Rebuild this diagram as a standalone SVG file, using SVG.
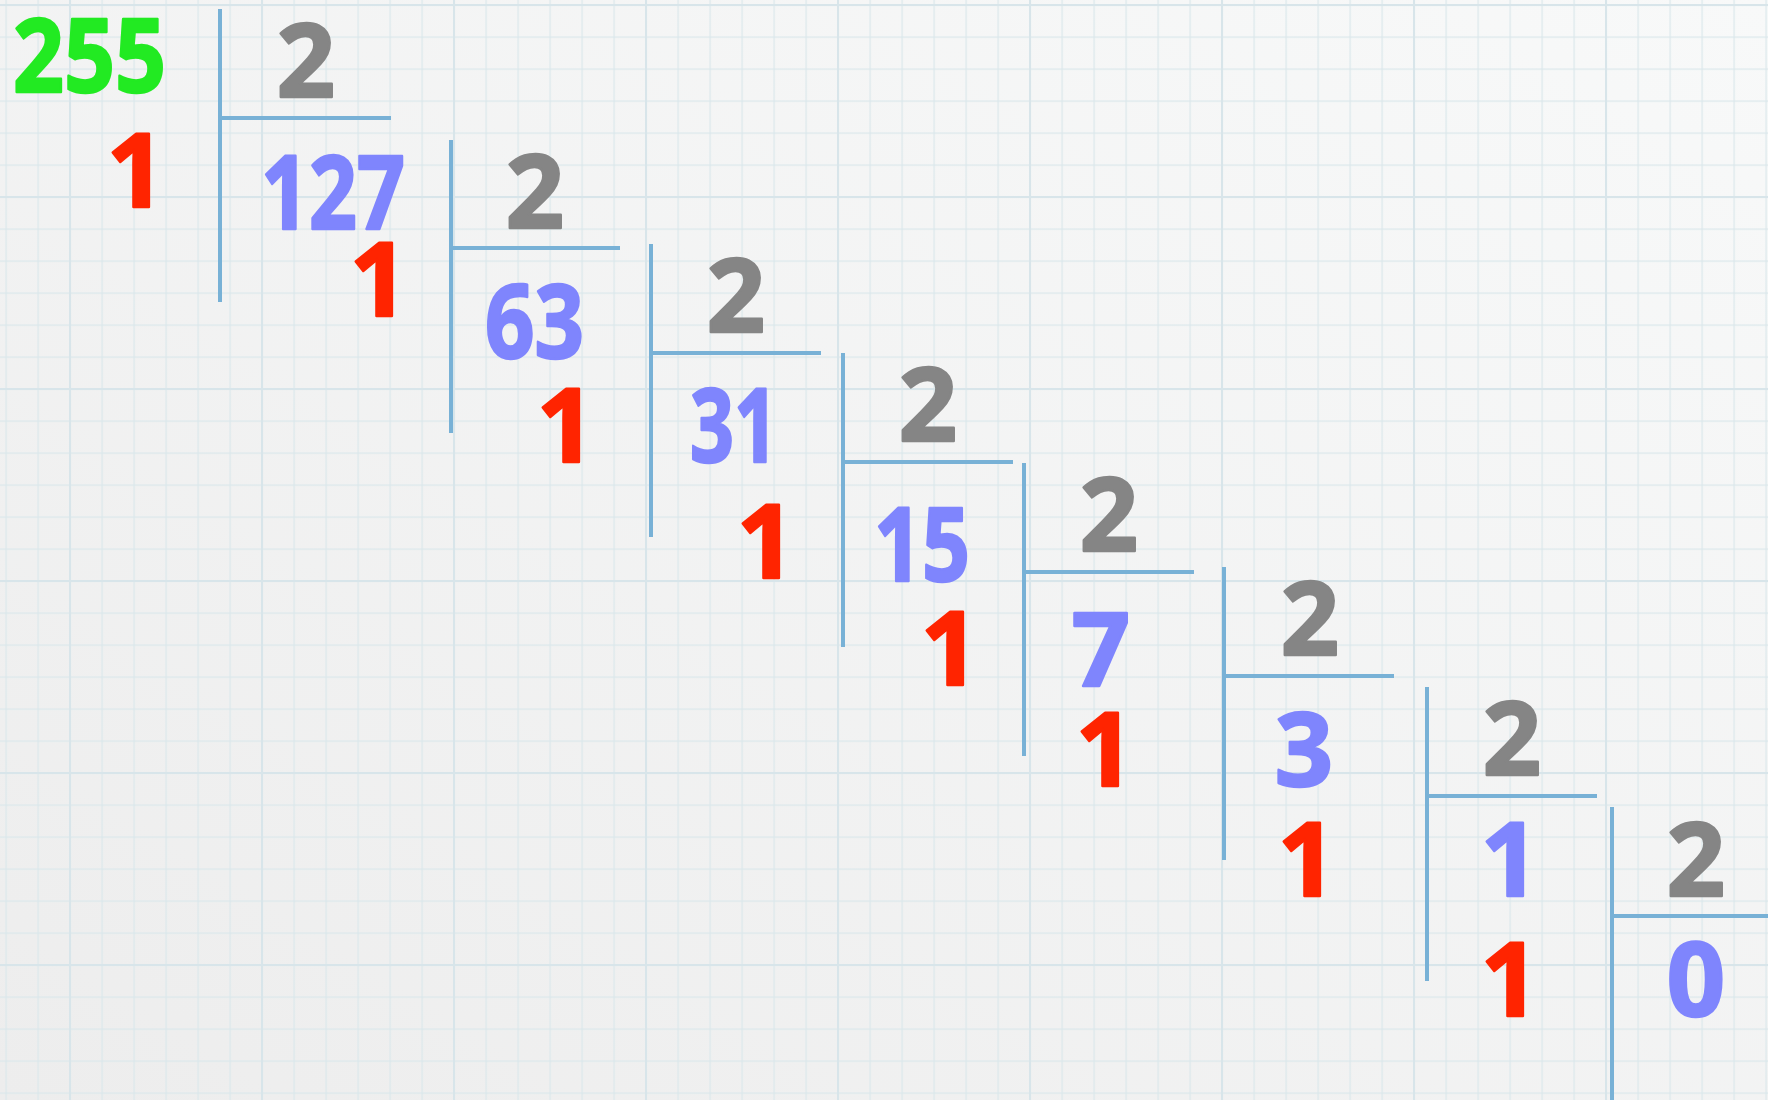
<svg xmlns="http://www.w3.org/2000/svg" width="1768" height="1100" viewBox="0 0 1768 1100">
  <defs>
    <linearGradient id="bg" x1="1" y1="0" x2="0" y2="1">
      <stop offset="0" stop-color="#f8f9f9"/>
      <stop offset="1" stop-color="#ededed"/>
    </linearGradient>
    <pattern id="gridLight" patternUnits="userSpaceOnUse" x="5.5" y="4.5" width="32" height="32">
      <rect x="0" y="0" width="32" height="1.2" fill="#dae7eb"/>
      <rect x="0" y="0" width="1.2" height="32" fill="#dae7eb"/>
    </pattern>
    <pattern id="gridHeavy" patternUnits="userSpaceOnUse" x="69" y="4" width="192" height="192">
      <rect x="0" y="0" width="192" height="2" fill="#d8e5ea"/>
      <rect x="0" y="0" width="2" height="192" fill="#d8e5ea"/>
    </pattern>
  </defs>
  <style>
    .d { font-family: "Noto Sans", "Liberation Sans", sans-serif; font-weight: 700; font-size: 102px; stroke-width: 2.5; stroke-linejoin: round; stroke-linecap: round; }
    .c { text-anchor: middle; }
    .green { fill: #22ea22; stroke: #22ea22; }
    .gray { fill: #858585; stroke: #858585; }
    .blue { fill: #7f85fd; stroke: #7f85fd; }
    .red { fill: #ff2400; stroke: #ff2400; }
    .rule { stroke: #78b1d6; stroke-width: 4; fill: none; }
  </style>

  <rect x="0" y="0" width="1768" height="1100" fill="url(#bg)"/>
  <rect x="0" y="0" width="1768" height="1100" fill="url(#gridLight)"/>
  <rect x="0" y="0" width="1768" height="1100" fill="url(#gridHeavy)"/>

  <g id="connectors">
    <path class="rule" d="M220 9V302M220 118H391"/>
    <path class="rule" d="M451 140V433M451 248H620"/>
    <path class="rule" d="M651 244V537M651 353H821"/>
    <path class="rule" d="M843 353V647M843 462H1013"/>
    <path class="rule" d="M1024 463V756M1024 572H1194"/>
    <path class="rule" d="M1224 567V860M1224 676H1394"/>
    <path class="rule" d="M1427 687V981M1427 796H1597"/>
    <path class="rule" d="M1612 807V1100M1612 916H1768"/>
  </g>

  <g id="dividend-255">
    <text class="d green" x="13" y="92" textLength="153" lengthAdjust="spacingAndGlyphs">255</text>
  </g>

  <g id="step-1">
    <text class="d c gray" x="306" y="97">2</text>
    <text class="d red c" x="136" y="207">1</text>
    <text class="d blue" x="261" y="229" textLength="144" lengthAdjust="spacingAndGlyphs">127</text>
  </g>
  <g id="step-2">
    <text class="d c gray" x="535" y="228">2</text>
    <text class="d red c" x="379" y="316">1</text>
    <text class="d blue" x="485" y="358" textLength="99" lengthAdjust="spacingAndGlyphs">63</text>
  </g>
  <g id="step-3">
    <text class="d c gray" x="736" y="332">2</text>
    <text class="d red c" x="566" y="462">1</text>
    <text class="d blue" x="690" y="462" textLength="88" lengthAdjust="spacingAndGlyphs">31</text>
  </g>
  <g id="step-4">
    <text class="d c gray" x="928" y="441">2</text>
    <text class="d red c" x="766" y="578">1</text>
    <text class="d blue" x="874" y="581" textLength="96" lengthAdjust="spacingAndGlyphs">15</text>
  </g>
  <g id="step-5">
    <text class="d c gray" x="1109" y="551">2</text>
    <text class="d red c" x="950" y="685">1</text>
    <text class="d c blue" x="1101" y="686">7</text>
  </g>
  <g id="step-6">
    <text class="d c gray" x="1310" y="655">2</text>
    <text class="d red c" x="1105" y="786">1</text>
    <text class="d c blue" x="1304" y="786">3</text>
  </g>
  <g id="step-7">
    <text class="d c gray" x="1512" y="775">2</text>
    <text class="d red c" x="1307" y="896">1</text>
    <text class="d c blue" x="1510" y="896">1</text>
  </g>
  <g id="step-8">
    <text class="d c gray" x="1696" y="896">2</text>
    <text class="d red c" x="1510" y="1016">1</text>
    <text class="d c blue" x="1696" y="1016">0</text>
  </g>
</svg>
